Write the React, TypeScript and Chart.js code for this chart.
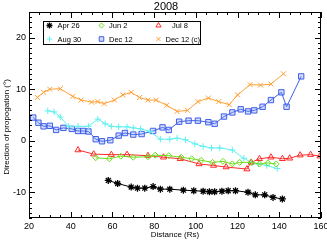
import React, { useEffect, useRef } from "react";
import { Chart, registerables } from "chart.js";
import * as helpers from "chart.js/helpers";

Chart.register(...registerables);

const titleText = "2008";
const xTitle = "Distance (Rs)";
const yTitle = "Direction of propogation (°)";
const xTicks = [20, 40, 60, 80, 100, 120, 140, 160];
const yTicks = [-10, 0, 10, 20];

const aprX = [58, 62.5, 69, 72, 75.5, 79.5, 83, 87.5, 94, 99, 103.5, 106.5, 109, 112.5, 115.5, 119, 125, 128.5, 133, 137, 141.5];
const aprY = [-7.7, -8.3, -9.0, -9.2, -9.2, -8.9, -9.4, -9.4, -9.6, -9.7, -9.8, -9.9, -9.9, -9.8, -9.7, -9.7, -10.0, -10.5, -10.5, -11.0, -11.3];

const junX = [52, 58.5, 64, 70, 77, 80.5, 87, 93, 98, 102.5, 108, 113, 117.5, 121, 126.5, 130.5, 134.5, 138.5];
const junY = [-3.3, -3.5, -3.0, -3.2, -3.1, -2.8, -2.9, -3.2, -3.5, -3.8, -4.2, -4.0, -4.5, -4.2, -4.2, -4.5, -4.3, -4.5];

const julX = [43.5, 51, 59.5, 67, 77, 84.5, 92.5, 101.5, 108.5, 114.5, 124.5, 126.5, 130.5, 136, 141.5, 145, 150, 155, 159.5];
const julY = [-1.8, -2.6, -2.7, -2.7, -2.9, -3.2, -3.5, -4.5, -4.8, -5.1, -5.5, -4.2, -3.5, -3.2, -3.5, -3.4, -2.8, -2.7, -3.0];

const augX = [29, 32, 35, 39, 43.5, 48.5, 53, 56.5, 59.5, 63, 67, 70, 73.5, 78, 83, 87.5, 91, 95, 99.5, 103.5, 107.5, 111.5, 117.5, 123, 127, 130, 134, 139];
const augY = [5.8, 5.6, 4.6, 2.8, 2.8, 2.8, 4.2, 3.3, 2.8, 2.7, 2.7, 2.5, 2.3, 1.8, 0.3, 0.3, 0.5, 0.2, -0.6, -1.1, -1.4, -1.4, -1.8, -3.4, -4.3, -4.5, -4.8, -5.4];

const decX = [22, 24.5, 27, 30, 33, 36.5, 40.5, 43.5, 46, 48.5, 52, 55, 59, 63, 66, 70, 74, 79.5, 84, 87, 92, 96.5, 101, 106, 109, 113.5, 117.5, 121.5, 125, 128, 132, 136, 141, 143.5, 150.5];
const decY = [4.5, 3.5, 2.8, 2.9, 2.1, 2.5, 2.3, 1.9, 1.9, 1.8, 0.3, -0.1, 0.1, 1.0, 1.5, 1.2, 1.3, 1.9, 2.6, 2.1, 3.7, 3.9, 3.9, 3.6, 3.3, 4.7, 5.5, 6.1, 5.7, 5.9, 6.6, 7.9, 9.4, 6.6, 12.5];

const deccX = [24, 27, 30, 35, 41, 45, 50, 53, 56, 61, 65, 69, 73, 77, 81, 86, 91, 96, 101, 106, 111, 116, 120, 126, 131, 136, 142];
const deccY = [8.4, 9.4, 10.0, 10.1, 8.6, 7.9, 7.5, 7.6, 7.2, 7.9, 8.9, 9.4, 8.4, 7.9, 7.9, 6.9, 5.7, 5.9, 7.6, 8.3, 7.6, 7.0, 8.9, 10.9, 10.8, 11.0, 13.0];

const FONT = "'Liberation Sans', Arial, sans-serif";

const seriesDefs = [
  { label: "Apr 26", xs: aprX, ys: aprY, color: "#000000", fill: "rgba(0,0,0,0)", style: "star", r: 3.5, bw: 1.3 },
  { label: "Jun 2", xs: junX, ys: junY, color: "#6ede1e", fill: "rgba(0,0,0,0)", style: "rectRot", r: 3, bw: 1 },
  { label: "Jul 8", xs: julX, ys: julY, color: "#ff2a2a", fill: "rgba(0,0,0,0)", style: "triangle", r: 3.5, bw: 1 },
  { label: "Aug 30", xs: augX, ys: augY, color: "#5ff0f0", fill: "rgba(0,0,0,0)", style: "cross", r: 3.2, bw: 1 },
  { label: "Dec 12", xs: decX, ys: decY, color: "#3f5fe6", fill: "rgba(110,140,255,0.3)", style: "rect", r: 3.8, bw: 1 },
  { label: "Dec 12 (c)", xs: deccX, ys: deccY, color: "#ffa035", fill: "rgba(0,0,0,0)", style: "crossRot", r: 3.5, bw: 1 },
];

const legendPos = [
  { mx: 49.5, my: 25.5, tx: 57.5 },
  { mx: 101.5, my: 25.5, tx: 109 },
  { mx: 158.5, my: 25.5, tx: 172 },
  { mx: 49.5, my: 39, tx: 57.5 },
  { mx: 101.5, my: 39, tx: 109 },
  { mx: 158.5, my: 39, tx: 165.5 },
];

const decorPlugin = {
  id: "decor",
  afterDraw(chart: any) {
    const ctx = chart.ctx;
    const a = chart.chartArea;
    const xs = chart.scales.x;
    const ys = chart.scales.y;
    ctx.save();
    ctx.strokeStyle = "#000";
    ctx.lineWidth = 1;
    ctx.strokeRect(Math.round(a.left) + 0.5, Math.round(a.top) + 0.5, Math.round(a.right - a.left) - 1, Math.round(a.bottom - a.top) - 1);
    ctx.beginPath();
    for (let v = 20; v <= 160; v += 5) {
      const px = Math.round(xs.getPixelForValue(v)) + 0.5;
      const len = v % 20 === 0 ? 6 : 3;
      ctx.moveTo(px, a.bottom);
      ctx.lineTo(px, a.bottom - len);
      ctx.moveTo(px, a.top);
      ctx.lineTo(px, a.top + len);
    }
    for (let v = -15; v <= 25; v += 1) {
      const py = Math.round(ys.getPixelForValue(v)) + 0.5;
      const len = v % 10 === 0 ? 6 : 3;
      ctx.moveTo(a.left, py);
      ctx.lineTo(a.left + len, py);
      ctx.moveTo(a.right, py);
      ctx.lineTo(a.right - len, py);
    }
    ctx.stroke();

    // titles
    ctx.fillStyle = "#000";
    ctx.textAlign = "center";
    ctx.textBaseline = "middle";
    ctx.font = `11px ${FONT}`;
    ctx.fillText(titleText, 166, 6.5);
    ctx.font = `8px ${FONT}`;
    ctx.fillText(xTitle, (a.left + a.right) / 2, 234.5);
    ctx.save();
    ctx.translate(7, 127);
    ctx.rotate(-Math.PI / 2);
    ctx.fillText(yTitle, 0, 0);
    ctx.restore();

    // legend
    ctx.fillStyle = "#fff";
    ctx.fillRect(43.5, 21.5, 157, 23);
    ctx.strokeStyle = "#000";
    ctx.lineWidth = 1;
    ctx.strokeRect(43.5, 21.5, 157, 23);
    seriesDefs.forEach((s, i) => {
      const p = legendPos[i];
      ctx.strokeStyle = s.color;
      ctx.fillStyle = s.fill;
      ctx.lineWidth = s.bw;
      helpers.drawPoint(ctx, { pointStyle: s.style, radius: s.r * 0.85, borderWidth: s.bw, rotation: 0 } as any, p.mx, p.my);
      ctx.fillStyle = "#000";
      ctx.textAlign = "left";
      ctx.textBaseline = "middle";
      ctx.font = `7.5px ${FONT}`;
      ctx.fillText(s.label, p.tx, p.my + 0.5);
    });
    ctx.restore();
  },
};

export default function App() {
  const ref = useRef<HTMLCanvasElement | null>(null);
  useEffect(() => {
    document.body.style.margin = "0";
    if (!ref.current) return;
    const chart = new Chart(ref.current, {
      type: "line",
      data: {
        datasets: seriesDefs.map((s) => ({
          label: s.label,
          data: s.xs.map((x, i) => ({ x, y: s.ys[i] })),
          borderColor: s.color,
          backgroundColor: s.fill,
          borderWidth: 1,
          pointStyle: s.style as any,
          pointRadius: s.r,
          pointBorderWidth: s.bw,
          pointBorderColor: s.color,
          pointBackgroundColor: s.fill,
          tension: 0,
          fill: false,
        })),
      },
      options: {
        animation: false,
        responsive: false,
        maintainAspectRatio: false,
        events: [],
        layout: { padding: { top: 12, right: 6, left: 0, bottom: 0 } },
        plugins: { legend: { display: false }, title: { display: false }, tooltip: { enabled: false } },
        scales: {
          x: {
            type: "linear",
            min: 20,
            max: 160,
            grid: { display: false, drawTicks: false, tickLength: 0 },
            border: { display: false },
            ticks: { font: { size: 9, family: FONT }, color: "#000", padding: 3, maxRotation: 0 },
            afterBuildTicks: (sc: any) => {
              sc.ticks = xTicks.map((v) => ({ value: v }));
            },
            afterFit: (sc: any) => {
              sc.height = 22;
              sc.paddingLeft = 0;
              sc.paddingRight = 0;
            },
          },
          y: {
            type: "linear",
            min: -15,
            max: 25,
            grid: { display: false, drawTicks: false, tickLength: 0 },
            border: { display: false },
            ticks: { font: { size: 9, family: FONT }, color: "#000", padding: 3 },
            afterBuildTicks: (sc: any) => {
              sc.ticks = yTicks.map((v) => ({ value: v }));
            },
            afterFit: (sc: any) => {
              sc.width = 29;
              sc.paddingTop = 0;
              sc.paddingBottom = 0;
            },
          },
        },
      },
      plugins: [decorPlugin],
    });
    return () => chart.destroy();
  }, []);
  return <canvas ref={ref} width={327} height={240} style={{ display: "block", width: 327, height: 240 }} />;
}
